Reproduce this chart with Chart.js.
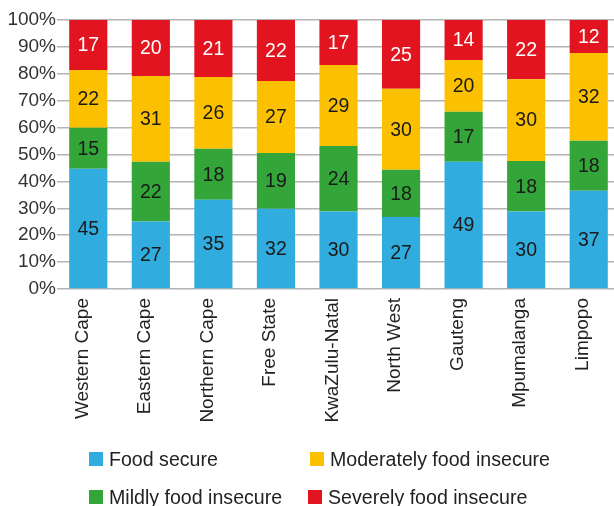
<!DOCTYPE html>
<html>
<head>
<meta charset="utf-8">
<script src="https://cdn.jsdelivr.net/npm/chart.js@4.4.0/dist/chart.umd.min.js"></script>
<style>
  html, body { margin: 0; padding: 0; background: #fff; overflow: hidden; }
  #wrap { position: relative; width: 620px; height: 506px; }
  #chartBox { position: absolute; left: 0; top: 0; width: 620px; height: 432px; }
  #legend { position: absolute; left: 0; top: 0; width: 614px; height: 506px; pointer-events: none;
            font-family: "Liberation Sans", Arial, sans-serif; font-size: 19.6px; color: #222; }
  .item { position: absolute; display: flex; align-items: center; white-space: nowrap; }
  .box { width: 14px; height: 14px; margin-right: 6px; }
</style>
</head>
<body>
<div id="wrap">
  <div id="chartBox"><canvas id="chart"></canvas></div>
  <div id="legend"></div>
</div>
<script>
const provinces = ['Western Cape', 'Eastern Cape', 'Northern Cape', 'Free State', 'KwaZulu-Natal',
                   'North West', 'Gauteng', 'Mpumalanga', 'Limpopo'];
const yTicks = ['0%', '10%', '20%', '30%', '40%', '50%', '60%', '70%', '80%', '90%', '100%'];

// bar segment heights (share of 100%)
const foodSecure = [44.7, 25.1, 33.2, 29.8, 28.8, 26.8, 47.3, 28.8, 36.5];
const mildly     = [15.2, 22.2, 18.9, 20.8, 24.4, 17.5, 18.6, 18.8, 18.6];
const moderately = [21.5, 31.9, 26.7, 26.7, 30.1, 30.1, 19.2, 30.4, 32.6];
const severely   = [18.6, 20.8, 21.2, 22.7, 16.7, 25.6, 14.9, 22.0, 12.3];

// numbers printed on the segments
const foodSecureLabels = [45, 27, 35, 32, 30, 27, 49, 30, 37];
const mildlyLabels     = [15, 22, 18, 19, 24, 18, 17, 18, 18];
const moderatelyLabels = [22, 31, 26, 27, 29, 30, 20, 30, 32];
const severelyLabels   = [17, 20, 21, 22, 17, 25, 14, 22, 12];

const FONT = '"Liberation Sans", Arial, sans-serif';

const datasets = [
    { label: 'Food secure', data: foodSecure, backgroundColor: '#31acde', valueLabels: foodSecureLabels, textColor: '#1a1a1a' },
    { label: 'Mildly food insecure', data: mildly, backgroundColor: '#34a539', valueLabels: mildlyLabels, textColor: '#1a1a1a' },
    { label: 'Moderately food insecure', data: moderately, backgroundColor: '#fbc100', valueLabels: moderatelyLabels, textColor: '#1a1a1a' },
    { label: 'Severely food insecure', data: severely, backgroundColor: '#e1141f', valueLabels: severelyLabels, textColor: '#ffffff' }
];

// draw the numbers in the middle of each segment
const segmentLabels = {
    id: 'segmentLabels',
    afterDatasetsDraw(chart) {
        const ctx = chart.ctx;
        ctx.save();
        ctx.font = '19.5px ' + FONT;
        ctx.textAlign = 'center';
        ctx.textBaseline = 'middle';
        chart.data.datasets.forEach((ds, i) => {
            const meta = chart.getDatasetMeta(i);
            ctx.fillStyle = ds.textColor;
            meta.data.forEach((bar, j) => {
                const y = (bar.y + bar.base) / 2;
                ctx.fillText(String(ds.valueLabels[j]), bar.x, y + 1);
            });
        });
        ctx.restore();
    }
};

new Chart(document.getElementById('chart'), {
    type: 'bar',
    data: { labels: provinces, datasets: datasets },
    options: {
        responsive: true,
        maintainAspectRatio: false,
        animation: false,
        layout: { padding: { top: 20, left: 0, right: 0, bottom: 0 } },
        datasets: { bar: { barPercentage: 0.61, categoryPercentage: 1.0 } },
        plugins: {
            legend: { display: false },
            tooltip: { enabled: false }
        },
        scales: {
            x: {
                stacked: true,
                grid: { display: false },
                border: { display: false },
                afterFit(scale) { scale.height = 143; },
                ticks: {
                    color: '#222',
                    font: { family: FONT, size: 19 },
                    minRotation: 90,
                    maxRotation: 90,
                    padding: 1,
                    labelOffset: -6
                }
            },
            y: {
                stacked: true,
                min: 0,
                max: 100,
                afterFit(scale) { scale.width = 57; },
                grid: { color: '#b4b4b4', lineWidth: 1.5, drawTicks: false },
                border: { display: false },
                ticks: {
                    stepSize: 10,
                    padding: 1,
                    color: '#333',
                    font: { family: FONT, size: 19 },
                    callback: (v, i) => yTicks[i]
                }
            }
        }
    },
    plugins: [segmentLabels]
});

// two-column legend under the chart
const legendOrder = [
    { ds: 0, x: 89, y: 459 },
    { ds: 2, x: 310, y: 459 },
    { ds: 1, x: 89, y: 497 },
    { ds: 3, x: 308, y: 497 }
];
const legendEl = document.getElementById('legend');
legendOrder.forEach(p => {
    const ds = datasets[p.ds];
    const item = document.createElement('div');
    item.className = 'item';
    item.style.left = p.x + 'px';
    item.style.top = (p.y - 12) + 'px';
    item.style.height = '24px';
    const box = document.createElement('span');
    box.className = 'box';
    box.style.background = ds.backgroundColor;
    const txt = document.createElement('span');
    txt.textContent = ds.label;
    item.appendChild(box);
    item.appendChild(txt);
    legendEl.appendChild(item);
});
</script>
</body>
</html>
